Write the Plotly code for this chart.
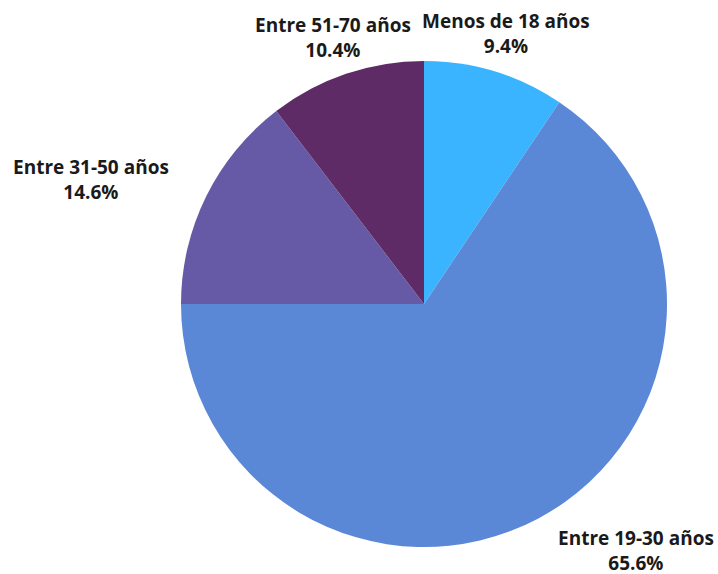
import plotly.graph_objects as go

labels = ["Menos de 18 años", "Entre 19-30 años", "Entre 31-50 años", "Entre 51-70 años"]
values = [9.4, 65.6, 14.6, 10.4]
colors = ["#3BB4FF", "#5B87D7", "#665AA6", "#5E2B66"]

W, H = 718, 574
# label anchor positions in pixels (center of label block)
label_pos = [(506, 34), (636, 550), (91, 179), (333, 37)]

fig = go.Figure(go.Pie(
    labels=labels,
    values=values,
    sort=False,
    direction="clockwise",
    rotation=0,
    marker=dict(colors=colors, line=dict(width=0)),
    textinfo="none",
    showlegend=False,
    hoverinfo="label+percent",
    domain=dict(x=[181 / W, 667 / W], y=[1 - 547 / H, 1 - 61 / H]),
))

total = sum(values)
for lab, val, (px, py) in zip(labels, values, label_pos):
    fig.add_annotation(
        x=px / W, y=1 - py / H, xref="paper", yref="paper",
        xanchor="center", yanchor="middle",
        text=f"<b>{lab}</b><br><b>{val / total * 100:.1f}%</b>",
        showarrow=False,
        font=dict(family="Open Sans", size=19, color="#1a1a1a"),
        align="center",
    )

fig.update_layout(
    width=W, height=H,
    margin=dict(l=0, r=0, t=0, b=0),
    paper_bgcolor="white",
    plot_bgcolor="white",
)
fig.write_html(
    "out.html",
    config={"displayModeBar": False},
    post_script="document.body.style.margin='0';document.body.style.overflow='hidden';",
)
